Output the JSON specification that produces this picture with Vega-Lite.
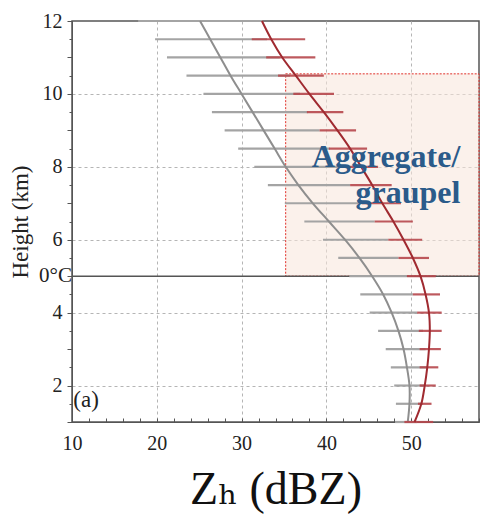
{
  "$schema": "https://vega.github.io/schema/vega-lite/v6.json",
  "width": 407,
  "height": 401,
  "autosize": {"type": "none"},
  "padding": {"left": 72, "top": 21, "right": 6, "bottom": 94},
  "background": "white",
  "config": {
    "view": {"stroke": "#555", "strokeWidth": 1.5},
    "axis": {
      "labelFont": "Liberation Serif",
      "titleFont": "Liberation Serif, DejaVu Serif",
      "labelColor": "#222",
      "titleColor": "#222",
      "domainColor": "#555",
      "tickColor": "#555",
      "gridColor": "#b5b5b5",
      "gridDash": [3, 3]
    }
  },
  "datasets": {
    "prof": [
      {"h": 12, "s": "gray", "m": 25.1, "lo": 17.8, "hi": 32.5},
      {"h": 11.5, "s": "gray", "m": 26.3, "lo": 19.8, "hi": 33.0},
      {"h": 11, "s": "gray", "m": 27.5, "lo": 21.2, "hi": 34.5},
      {"h": 10.5, "s": "gray", "m": 28.7, "lo": 23.5, "hi": 35.7},
      {"h": 10, "s": "gray", "m": 30.0, "lo": 25.5, "hi": 36.9},
      {"h": 9.5, "s": "gray", "m": 31.3, "lo": 26.5, "hi": 37.8},
      {"h": 9, "s": "gray", "m": 32.6, "lo": 28.0, "hi": 39.2},
      {"h": 8.5, "s": "gray", "m": 33.9, "lo": 29.6, "hi": 40.4},
      {"h": 8, "s": "gray", "m": 35.2, "lo": 31.5, "hi": 41.5},
      {"h": 7.5, "s": "gray", "m": 36.7, "lo": 33.1, "hi": 42.8},
      {"h": 7, "s": "gray", "m": 38.4, "lo": 35.1, "hi": 45.0},
      {"h": 6.5, "s": "gray", "m": 40.3, "lo": 37.4, "hi": 45.7},
      {"h": 6, "s": "gray", "m": 42.2, "lo": 39.6, "hi": 47.3},
      {"h": 5.5, "s": "gray", "m": 43.9, "lo": 41.4, "hi": 48.5},
      {"h": 5, "s": "gray", "m": 45.4, "lo": 42.7, "hi": 49.5},
      {"h": 4.5, "s": "gray", "m": 46.7, "lo": 44.0, "hi": 50.2},
      {"h": 4, "s": "gray", "m": 47.7, "lo": 45.1, "hi": 50.7},
      {"h": 3.5, "s": "gray", "m": 48.5, "lo": 46.1, "hi": 51.4},
      {"h": 3, "s": "gray", "m": 49.1, "lo": 47.0, "hi": 51.7},
      {"h": 2.5, "s": "gray", "m": 49.5, "lo": 47.6, "hi": 51.9},
      {"h": 2, "s": "gray", "m": 49.8, "lo": 48.0, "hi": 51.6},
      {"h": 1.5, "s": "gray", "m": 49.8, "lo": 48.2, "hi": 51.4},
      {"h": 1, "s": "gray", "m": 49.6, "lo": 48.1, "hi": 50.7},
      {"h": 12, "s": "red", "m": 32.4, "lo": null, "hi": null},
      {"h": 11.5, "s": "red", "m": 33.5, "lo": 31.2, "hi": 37.5},
      {"h": 11, "s": "red", "m": 34.8, "lo": 32.9, "hi": 38.7},
      {"h": 10.5, "s": "red", "m": 36.4, "lo": 34.3, "hi": 39.7},
      {"h": 10, "s": "red", "m": 38.0, "lo": 36.1, "hi": 40.9},
      {"h": 9.5, "s": "red", "m": 39.7, "lo": 37.7, "hi": 42.0},
      {"h": 9, "s": "red", "m": 41.3, "lo": 39.2, "hi": 43.5},
      {"h": 8.5, "s": "red", "m": 42.8, "lo": 40.3, "hi": 44.8},
      {"h": 8, "s": "red", "m": 44.1, "lo": 41.5, "hi": 46.1},
      {"h": 7.5, "s": "red", "m": 45.4, "lo": 42.8, "hi": 47.7},
      {"h": 7, "s": "red", "m": 46.6, "lo": 44.2, "hi": 48.8},
      {"h": 6.5, "s": "red", "m": 47.9, "lo": 45.7, "hi": 50.2},
      {"h": 6, "s": "red", "m": 49.1, "lo": 47.3, "hi": 51.3},
      {"h": 5.5, "s": "red", "m": 50.2, "lo": 48.5, "hi": 52.1},
      {"h": 5, "s": "red", "m": 51.1, "lo": 49.5, "hi": 52.9},
      {"h": 4.5, "s": "red", "m": 51.7, "lo": 50.2, "hi": 53.4},
      {"h": 4, "s": "red", "m": 52.1, "lo": 50.7, "hi": 53.6},
      {"h": 3.5, "s": "red", "m": 52.2, "lo": 50.9, "hi": 53.6},
      {"h": 3, "s": "red", "m": 52.1, "lo": 51.0, "hi": 53.5},
      {"h": 2.5, "s": "red", "m": 51.9, "lo": 51.0, "hi": 53.2},
      {"h": 2, "s": "red", "m": 51.6, "lo": 51.0, "hi": 52.9},
      {"h": 1.5, "s": "red", "m": 51.2, "lo": 50.8, "hi": 52.4},
      {"h": 1, "s": "red", "m": 50.4, "lo": 49.2, "hi": 52.6}
    ]
  },
  "data": {"name": "prof"},
  "encoding": {
    "x": {
      "field": "m",
      "type": "quantitative",
      "scale": {"domain": [10, 58], "nice": false, "zero": false},
      "axis": {
        "title": "Zₕ (dBZ)",
        "titleFontSize": 46,
        "titleFontWeight": "normal",
        "titleColor": "#111",
        "titlePadding": 14,
        "values": [10, 12, 14, 16, 18, 20, 22, 24, 26, 28, 30, 32, 34, 36, 38, 40, 42, 44, 46, 48, 50, 52, 54, 56, 58],
        "labelExpr": "(datum.value % 10 == 0) ? ('' + datum.value) : ''",
        "labelFontSize": 20,
        "labelPadding": 15,
        "labelFlush": false,
        "labelOverlap": false,
        "tickSize": -4,
        "grid": true,
        "gridOpacity": {"condition": {"test": "datum.value % 10 == 0 && datum.value > 10", "value": 1}, "value": 0}
      }
    },
    "y": {
      "field": "h",
      "type": "quantitative",
      "scale": {"domain": [1, 12], "nice": false, "zero": false},
      "axis": {
        "title": "Height (km)",
        "titleFontSize": 23,
        "titleFontWeight": "normal",
        "titlePadding": 10,
        "values": [1, 1.5, 2, 2.5, 3, 3.5, 4, 4.5, 5, 5.5, 6, 6.5, 7, 7.5, 8, 8.5, 9, 9.5, 10, 10.5, 11, 11.5, 12],
        "labelExpr": "(datum.value % 2 == 0) ? ('' + datum.value) : ''",
        "labelFontSize": 20,
        "labelPadding": 5,
        "labelFlush": false,
        "labelOverlap": false,
        "tickSize": {"condition": {"test": "datum.value % 1 == 0", "value": 5}, "value": 3},
        "gridOpacity": {"condition": {"test": "datum.value % 2 == 0 && datum.value < 12", "value": 1}, "value": 0}
      }
    }
  },
  "layer": [
    {
      "transform": [{"filter": "datum.s == 'red' && datum.h == 12"}],
      "mark": {"type": "rect", "fill": "#f7e6da", "fillOpacity": 0.55, "stroke": "#e0302a", "strokeWidth": 1, "strokeDash": [2, 1.5]},
      "encoding": {
        "x": {"datum": 35.2, "type": "quantitative"},
        "x2": {"datum": 58},
        "y": {"datum": 5, "type": "quantitative"},
        "y2": {"datum": 10.55}
      }
    },
    {
      "transform": [{"filter": "datum.s == 'red' && datum.h == 12"}],
      "mark": {"type": "rule", "color": "#555", "strokeWidth": 1.5},
      "encoding": {"x": {"datum": 10, "type": "quantitative"}, "x2": {"datum": 58}, "y": {"datum": 5, "type": "quantitative"}}
    },
    {
      "transform": [{"filter": "datum.s == 'gray'"}],
      "mark": {"type": "rule", "color": "#a4a4a4", "strokeWidth": 2.2},
      "encoding": {
        "x": {"field": "lo", "type": "quantitative"},
        "x2": {"field": "hi"}
      }
    },
    {
      "transform": [{"filter": "datum.s == 'gray'"}],
      "mark": {"type": "line", "color": "#8e8e8e", "strokeWidth": 2, "interpolate": "catmull-rom"},
      "encoding": {
        "order": {"field": "h", "type": "quantitative"}
      }
    },
    {
      "transform": [{"filter": "datum.s == 'red' && datum.lo != null"}],
      "mark": {"type": "rule", "color": "#b6474c", "strokeWidth": 2.2, "opacity": 0.9},
      "encoding": {
        "x": {"field": "lo", "type": "quantitative"},
        "x2": {"field": "hi"}
      }
    },
    {
      "transform": [{"filter": "datum.s == 'red'"}],
      "mark": {"type": "line", "color": "#a02a30", "strokeWidth": 2, "interpolate": "catmull-rom"},
      "encoding": {
        "order": {"field": "h", "type": "quantitative"}
      }
    },
    {
      "transform": [{"filter": "datum.s == 'red' && datum.h == 12"}],
      "mark": {"type": "text", "text": "Aggregate/", "font": "Liberation Serif", "fontWeight": "bold", "fontSize": 32, "color": "#2b5b8a", "align": "right", "baseline": "alphabetic"},
      "encoding": {"x": {"datum": 55.8, "type": "quantitative"}, "y": {"datum": 8.0, "type": "quantitative"}}
    },
    {
      "transform": [{"filter": "datum.s == 'red' && datum.h == 12"}],
      "mark": {"type": "text", "text": "graupel", "font": "Liberation Serif", "fontWeight": "bold", "fontSize": 32, "color": "#2b5b8a", "align": "right", "baseline": "alphabetic"},
      "encoding": {"x": {"datum": 55.8, "type": "quantitative"}, "y": {"datum": 7.0, "type": "quantitative"}}
    },
    {
      "transform": [{"filter": "datum.s == 'red' && datum.h == 12"}],
      "mark": {"type": "text", "text": "(a)", "font": "Liberation Serif", "fontSize": 23, "color": "#222", "align": "left", "baseline": "middle"},
      "encoding": {"x": {"datum": 10.15, "type": "quantitative"}, "y": {"datum": 1.6, "type": "quantitative"}}
    },
    {
      "transform": [{"filter": "datum.s == 'red' && datum.h == 12"}],
      "mark": {"type": "text", "text": "0°C", "font": "Liberation Serif", "fontSize": 21, "color": "#222", "align": "right", "baseline": "middle"},
      "encoding": {"x": {"datum": 10, "type": "quantitative"}, "y": {"datum": 5, "type": "quantitative"}}
    }
  ]
}
